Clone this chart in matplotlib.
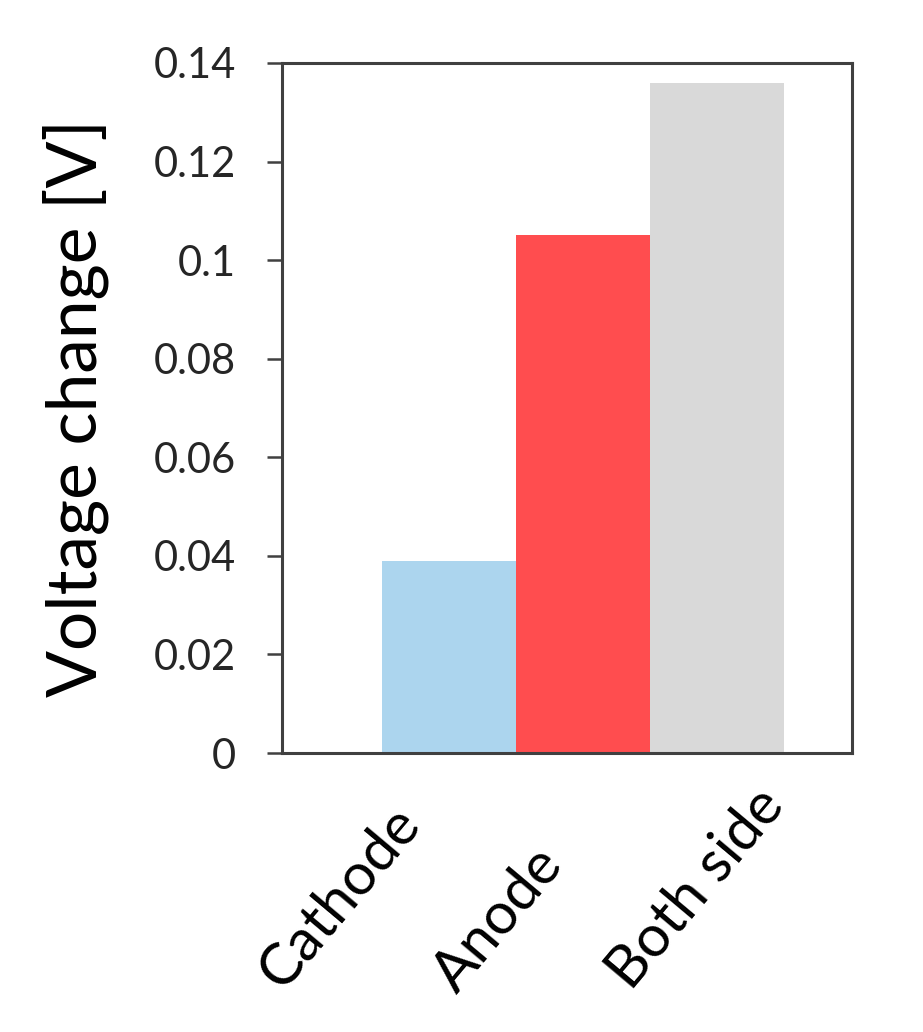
import matplotlib
matplotlib.use("Agg")
import matplotlib.pyplot as plt
from matplotlib.transforms import ScaledTranslation

plt.rcParams['font.family'] = ['Lato', 'DejaVu Sans']

# data
categories = ['Cathode', 'Anode', 'Both side']
voltage_change = [0.039, 0.105, 0.136]
bar_colors = ['#acd5ee', '#ff4d4f', '#d9d9d9']
yticks = [0, 0.02, 0.04, 0.06, 0.08, 0.1, 0.12, 0.14]
ytick_labels = ['0', '0.02', '0.04', '0.06', '0.08', '0.1', '0.12', '0.14']

fig = plt.figure(figsize=(9.23, 10.32), dpi=100)
ax = fig.add_axes([0.3055, 0.2703, 0.6175, 0.6687])

x = list(range(len(categories)))
ax.bar(x, voltage_change, width=1.0, color=bar_colors, edgecolor='none')

ax.set_ylim(0, 0.14)
ax.set_xlim(-1.25, 3.01)
ax.set_yticks(yticks)
ax.set_yticklabels(ytick_labels, fontsize=30, color='#262626')
ax.tick_params(axis='y', direction='out', length=11, width=1.8, color='#404040', pad=22)

# category labels: rotated, starting points lined up below the axis
ax.set_xticks(x)
ax.set_xticklabels(categories, fontsize=42, rotation=50, ha='left', va='baseline',
                   rotation_mode='anchor')
ax.tick_params(axis='x', length=0, pad=0)
shift_pt = [(-120, -172), (-91, -174), (-62, -172)]
for lab, (dx, dy) in zip(ax.get_xticklabels(), shift_pt):
    lab.set_transform(lab.get_transform() + ScaledTranslation(dx / 72, dy / 72, fig.dpi_scale_trans))

for s in ax.spines.values():
    s.set_color('#404040')
    s.set_linewidth(2.2)

ax.set_ylabel('Voltage change [V]', fontsize=50, labelpad=32)

fig.savefig('out.png', dpi=100)
